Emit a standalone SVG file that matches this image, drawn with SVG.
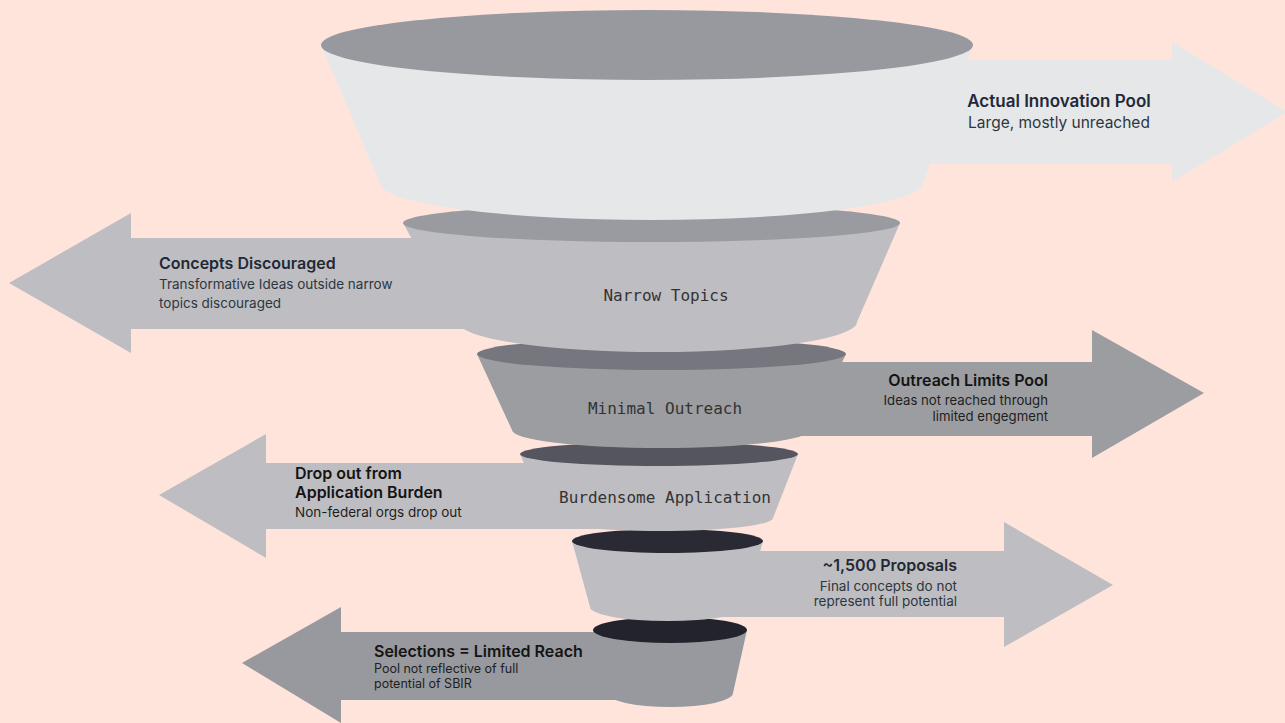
<svg xmlns="http://www.w3.org/2000/svg" width="1285" height="723" viewBox="0 0 1285 723">
<style>
.t{font-family:Inter,"Liberation Sans",sans-serif;font-weight:600;font-size:16px;fill:#1F2937}
.tk{fill:#141414}
.s{font-family:Inter,"Liberation Sans",sans-serif;font-weight:400;font-size:13.5px;fill:#2D3640}
.sk{fill:#1E1E1E}
.m{font-family:"DejaVu Sans Mono","Liberation Mono",monospace;font-size:16px;fill:#333333;text-anchor:middle}
.c1{fill:#E6E7E9}.c2{fill:#BEBEC2}.c3{fill:#9C9DA1}.c6{fill:#98999E}
</style>
<rect width="1285" height="723" fill="#FFE4DC"/>
<g id="connectors">
<path class="c1" d="M880,60 H1172 V42 L1287,112 L1172,182 V164 H880 Z"/>
<path class="c2" d="M470,238 H131 V213 L9,283 L131,353 V329 H470 Z"/>
<path class="c3" d="M780,362 H1092 V330 L1204,393 L1092,458 V436 H780 Z"/>
<path class="c2" d="M600,463 H266 V434 L159,495 L266,558 V529 H600 Z"/>
<path class="c2" d="M700,551 H1004 V522 L1113,585 L1004,647 V617 H700 Z"/>
<path class="c6" d="M680,632 H341 V607 L242,663 L341,723 V700 H680 Z"/>
</g>
<g id="tier6">
<path class="c6" d="M593,630 L607,693 A63 14 0 0 0 733,693 L747,630 Z"/>
<ellipse cx="670" cy="630" rx="77" ry="13" fill="#23232D"/>
</g>
<g id="tier5">
<path class="c2" d="M572,541 L590,607 A77.5 14 0 0 0 745,607 L763,541 Z"/>
<ellipse cx="667.5" cy="541" rx="95.5" ry="12" fill="#2A2A35"/>
</g>
<g id="tier4">
<path class="c2" d="M520,454 L547,518 A113 13 0 0 0 773,518 L798,454 Z"/>
<ellipse cx="659" cy="454" rx="139" ry="12" fill="#55555F"/>
</g>
<g id="tier3">
<path class="c3" d="M477,354 L512,430 A149 18 0 0 0 810,430 L846,354 Z"/>
<ellipse cx="661.5" cy="354" rx="184.5" ry="16" fill="#76767E"/>
</g>
<g id="tier2">
<path class="c2" d="M403,223 L458,322 A199.5 30 0 0 0 857,322 L900,223 Z"/>
<ellipse cx="651.5" cy="223" rx="248.5" ry="19" fill="#9A9BA0"/>
</g>
<g id="tier1">
<path class="c1" d="M321,45 L380,183 A271.5 37 0 0 0 923,183 L973,45 Z"/>
<ellipse cx="647" cy="45" rx="326" ry="35" fill="#98999E"/>
</g>
<g id="label1">
<text class="t" x="1059" y="107" text-anchor="middle" style="font-size:17px">Actual Innovation Pool</text>
<text class="s" x="1059" y="128" text-anchor="middle" style="font-size:15.5px">Large, mostly unreached</text>
</g>
<g id="label2">
<text class="t" x="159" y="269">Concepts Discouraged</text>
<text class="s" x="159" y="289">Transformative Ideas outside narrow</text>
<text class="s" x="159" y="308">topics discouraged</text>
<text class="m" x="666" y="301">Narrow Topics</text>
</g>
<g id="label3">
<text class="t tk" x="1048" y="386" text-anchor="end">Outreach Limits Pool</text>
<text class="s sk" x="1048" y="405" text-anchor="end" style="font-size:13.2px">Ideas not reached through</text>
<text class="s sk" x="1048" y="421" text-anchor="end" style="font-size:13.2px">limited engegment</text>
<text class="m" x="665" y="414">Minimal Outreach</text>
</g>
<g id="label4">
<text class="t tk" x="295" y="479">Drop out from</text>
<text class="t tk" x="295" y="498">Application Burden</text>
<text class="s sk" x="295" y="517">Non-federal orgs drop out</text>
<text class="m" x="665" y="503">Burdensome Application</text>
</g>
<g id="label5">
<text class="t" x="957" y="571" text-anchor="end">~1,500 Proposals</text>
<text class="s" x="957" y="591" text-anchor="end">Final concepts do not</text>
<text class="s" x="957" y="606" text-anchor="end">represent full potential</text>
</g>
<g id="label6">
<text class="t tk" x="374" y="657">Selections = Limited Reach</text>
<text class="s sk" x="374" y="673" style="font-size:12.5px">Pool not reflective of full</text>
<text class="s sk" x="374" y="688" style="font-size:12.5px">potential of SBIR</text>
</g>
</svg>
